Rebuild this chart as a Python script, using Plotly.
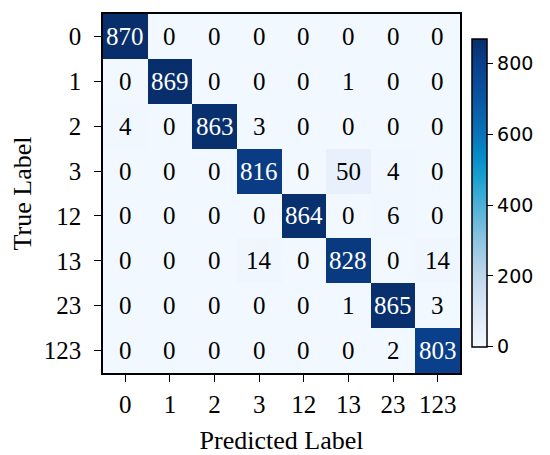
import plotly.graph_objects as go

# class labels and confusion matrix counts (rows = true, cols = predicted)
labels = ['0', '1', '2', '3', '12', '13', '23', '123']
counts = [
    [870, 0, 0, 0, 0, 0, 0, 0],
    [0, 869, 0, 0, 0, 1, 0, 0],
    [4, 0, 863, 3, 0, 0, 0, 0],
    [0, 0, 0, 816, 0, 50, 4, 0],
    [0, 0, 0, 0, 864, 0, 6, 0],
    [0, 0, 0, 14, 0, 828, 0, 14],
    [0, 0, 0, 0, 0, 1, 865, 3],
    [0, 0, 0, 0, 0, 0, 2, 803],
]
cbar_ticks = [0, 200, 400, 600, 800]

# Blues-like scale, a bit more saturated as in the picture
blues = [
    [0.0, 'rgb(242,248,255)'],
    [0.12, 'rgb(220,232,246)'],
    [0.23, 'rgb(192,215,236)'],
    [0.35, 'rgb(140,195,225)'],
    [0.46, 'rgb(78,176,216)'],
    [0.55, 'rgb(25,160,208)'],
    [0.62, 'rgb(5,140,200)'],
    [0.70, 'rgb(10,112,183)'],
    [0.82, 'rgb(10,82,160)'],
    [0.92, 'rgb(9,64,140)'],
    [1.0, 'rgb(8,46,108)'],
]

serif = 'Liberation Serif, Times New Roman, serif'
zmax = max(max(r) for r in counts)
zmin = min(min(r) for r in counts)
thresh = (zmax + zmin) / 2
idx = list(range(len(labels)))

fig = go.Figure()
fig.add_heatmap(
    x=idx, y=idx, z=counts,
    colorscale=blues,
    zmin=zmin, zmax=zmax,
    hoverinfo='skip',
    colorbar=dict(
        x=1.034, xanchor='left', xpad=0, ypad=0,
        y=0.502, yanchor='middle', len=0.858, lenmode='fraction',
        thickness=15, outlinewidth=1.5, outlinecolor='black',
        tickvals=cbar_ticks, ticks='outside', ticklen=6, tickwidth=1.3,
        tickcolor='black',
        tickfont=dict(family='DejaVu Sans', size=19, color='black'),
    ),
)

# cell values, white on dark cells
for i, row in enumerate(counts):
    for j, v in enumerate(row):
        fig.add_annotation(
            x=j, y=i, text=str(v), showarrow=False,
            font=dict(family=serif, size=25,
                      color='white' if v > thresh else 'black'),
        )

axis_style = dict(
    tickvals=idx, ticktext=labels, showline=True, mirror=True,
    linecolor='black', linewidth=1.5, ticks='outside', ticklen=7,
    tickwidth=1.3, tickcolor='black', showgrid=False, zeroline=False,
    automargin=False,
    tickfont=dict(family=serif, size=25, color='black'),
)
fig.update_xaxes(**axis_style, range=[-0.5, 7.5], ticklabelstandoff=1,
                 title=dict(text='Predicted Label',
                            font=dict(family=serif, size=26, color='black')))
fig.update_yaxes(**axis_style, range=[7.5, -0.5], ticklabelstandoff=8,
                 title=dict(text='True Label',
                            font=dict(family=serif, size=26, color='black')))

# page body adds 8px, so the figure is a bit smaller than the window
fig.update_layout(
    width=542, height=447,
    margin=dict(l=95, r=90, t=6, b=82),
    paper_bgcolor='white', plot_bgcolor='white',
)

fig.write_html('out.html')
